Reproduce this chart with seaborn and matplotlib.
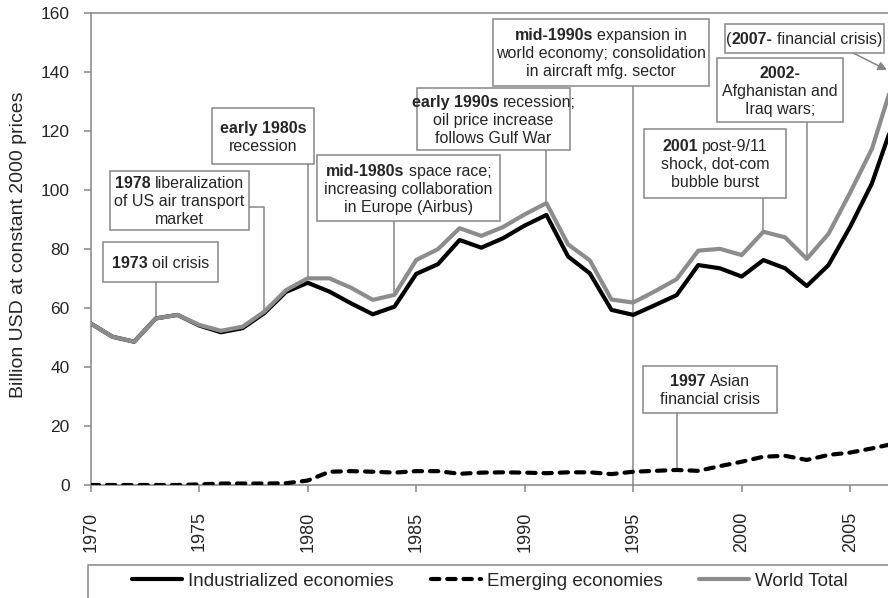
import matplotlib
matplotlib.use("Agg")
import matplotlib.pyplot as plt
import seaborn as sns
import numpy as np
import pandas as pd
from matplotlib.patches import Rectangle
from matplotlib.lines import Line2D

# data
years = list(range(1970, 2008))
industrialized = [54.8, 50.3, 48.6, 56.5, 57.7, 54.1, 51.8, 53.2, 58.3, 65.5,
                  68.6, 65.6, 61.6, 57.9, 60.5, 71.6, 74.9, 83.1, 80.5, 83.7,
                  88.0, 91.6, 77.5, 71.8, 59.4, 57.7, 61.0, 64.4, 74.6, 73.5,
                  70.7, 76.3, 73.5, 67.5, 74.6, 87.6, 102.3, 123.5]
emerging = [0.0, 0.0, 0.0, 0.0, 0.0, 0.2, 0.5, 0.5, 0.5, 0.6,
            1.5, 4.5, 4.7, 4.5, 4.2, 4.7, 4.7, 3.8, 4.2, 4.3,
            4.2, 4.0, 4.3, 4.3, 3.7, 4.5, 4.8, 5.1, 4.8, 6.4,
            7.9, 9.6, 9.9, 8.5, 10.2, 11.0, 12.4, 14.0]
world_total = [54.8, 50.3, 48.6, 56.5, 57.7, 54.3, 52.3, 53.7, 58.8, 66.1,
               70.1, 70.1, 66.9, 62.8, 64.5, 76.3, 80.0, 87.1, 84.5, 87.5,
               91.8, 95.6, 81.6, 76.2, 62.9, 61.9, 65.7, 69.8, 79.5, 80.1,
               78.0, 85.9, 84.0, 76.7, 85.2, 99.2, 114.0, 137.5]
series_labels = ["Industrialized economies", "Emerging economies", "World Total"]
x_ticks = list(range(1970, 2006, 5))
y_ticks = list(range(0, 161, 20))

df = pd.DataFrame({"year": years, "ind": industrialized, "em": emerging, "world": world_total})

sns.set_style("ticks")
plt.rcParams["font.family"] = ["Liberation Sans", "DejaVu Sans"]

W, H = 888, 598
GRAY = "#8c8c8c"
EDGE = "#868686"

fig = plt.figure(figsize=(W / 100, H / 100), dpi=100)
ax = fig.add_axes([90.7 / W, 1 - 485 / H, (893.6 - 90.7) / W, (485 - 13.3) / H])

sns.lineplot(data=df, x="year", y="ind", ax=ax, color="black", lw=3.0, zorder=3)
sns.lineplot(data=df, x="year", y="em", ax=ax, color="black", lw=3.0,
             linestyle=(0, (2.0, 1.9)), dash_capstyle="round", zorder=3)
sns.lineplot(data=df, x="year", y="world", ax=ax, color=GRAY, lw=3.0, zorder=4)

ax.set_xlim(1970, 2007)
ax.set_ylim(0, 160)
ax.set_xticks(x_ticks)
ax.set_yticks(y_ticks)
ax.set_xlabel("")
ax.set_ylabel("Billion USD at constant 2000 prices", fontsize=14)
ax.yaxis.set_label_coords(-0.079, 0.509)
ax.tick_params(axis="x", labelrotation=90, length=5, width=1.1, color=EDGE,
               pad=14, labelsize=13)
ax.tick_params(axis="y", length=5, width=1.1, color=EDGE, pad=10, labelsize=12.5)
for sp in ax.spines.values():
    sp.set_visible(True)
    sp.set_color(EDGE)
    sp.set_linewidth(1.1)


def px_to_data(x, y):
    return ax.transData.inverted().transform((x, H - y))


def fig_frac(x, y):
    return x / W, 1 - y / H


renderer = fig.canvas.get_renderer()
FS = 11.5
EM = FS * 100 / 72


def rich_line(cx, cy, line):
    parts = line.split("**")
    segs = [(p, i % 2 == 1) for i, p in enumerate(parts) if p.strip()]
    texts, gaps = [], []
    gap = 0.278 * EM
    for k, (s, bold) in enumerate(segs):
        t = fig.text(0, 0, s.strip(), fontsize=FS, fontweight="bold" if bold else "normal",
                     ha="left", va="baseline", zorder=12)
        texts.append(t)
        spaced = k > 0 and (s.startswith(" ") or segs[k - 1][0].endswith(" "))
        gaps.append(gap if spaced else 0.0)
    widths = [t.get_window_extent(renderer).width for t in texts]
    total = sum(widths) + sum(gaps)
    x = cx - total / 2
    base = cy + 0.36 * EM
    for t, w, g in zip(texts, widths, gaps):
        x += g
        t.set_position(fig_frac(x, base))
        x += w


def text_box(x0, y0, x1, y1, lines, spacing=18):
    fig.add_artist(Rectangle(fig_frac(x0, y1), (x1 - x0) / W, (y1 - y0) / H,
                             transform=fig.transFigure, fc="white", ec=EDGE,
                             lw=1.1, zorder=10))
    cx, cy = (x0 + x1) / 2, (y0 + y1) / 2
    n = len(lines)
    for i, ln in enumerate(lines):
        rich_line(cx, cy + (i - (n - 1) / 2) * spacing, ln)


def connector(year, top_px, target):
    ytop = px_to_data(0, top_px)[1]
    ax.plot([year, year], [ytop, target], color=EDGE, lw=1.1, zorder=2,
            solid_capstyle="butt", clip_on=False)


wt = dict(zip(years, world_total))
em = dict(zip(years, emerging))

# annotations
text_box(103, 242, 218, 282, ["**1973** oil crisis"])
connector(1973, 282, wt[1973])

text_box(110, 171, 249, 230, ["**1978** liberalization", "of US air transport", "market"])
ex, ey = px_to_data(249, 206.7)
ax.plot([ex, 1978, 1978], [ey, ey, wt[1978]], color=EDGE, lw=1.1, zorder=2, clip_on=False)

text_box(212, 108, 314, 164, ["**early 1980s**", "recession"])
connector(1980, 164, wt[1980])

text_box(317, 155, 500, 221, ["**mid-1980s** space race;", "increasing collaboration",
                              "in Europe (Airbus)"])
connector(1984, 221, wt[1984])

text_box(417, 88, 570, 150, ["**early 1990s** recession;", "oil price increase",
                             "follows Gulf War"])
connector(1991, 150, wt[1991])

text_box(493, 19, 709, 86, ["**mid-1990s** expansion in", "world economy; consolidation",
                            "in aircraft mfg. sector"])
connector(1995, 86, 0)

text_box(725, 24, 884, 53, ["(**2007-** financial crisis)"])
ax.annotate("", xy=(887, H - 70), xytext=(853, H - 53), xycoords="figure pixels",
            textcoords="figure pixels",
            arrowprops=dict(arrowstyle="-|>", color=EDGE, lw=1.1, mutation_scale=13,
                            shrinkA=0, shrinkB=0), zorder=11)

text_box(717, 58, 843, 122, ["**2002-**", "Afghanistan and", "Iraq wars;"])
connector(2003, 122, wt[2003])

text_box(644, 129, 786, 198, ["**2001** post-9/11", "shock, dot-com", "bubble burst"])
connector(2001, 198, wt[2001])

text_box(643, 366, 777, 413, ["**1997** Asian", "financial crisis"])
connector(1997, 413, em[1997])

# legend
fig.add_artist(Rectangle(fig_frac(88, 610), (893 - 88) / W, (610 - 565) / H,
                         transform=fig.transFigure, fc="white", ec=EDGE, lw=1.1,
                         zorder=10, clip_on=False))
handles = [Line2D([], [], color="black", lw=3.0),
           Line2D([], [], color="black", lw=3.0, linestyle=(0, (2.0, 1.9)),
                  dash_capstyle="round"),
           Line2D([], [], color=GRAY, lw=3.0)]
leg = fig.legend(handles, series_labels, loc="center", bbox_to_anchor=fig_frac(490, 581),
                 ncol=3, frameon=False, fontsize=13.5, handlelength=2.67,
                 handletextpad=0.32, columnspacing=1.97, borderpad=0)
leg.set_zorder(12)

fig.savefig("out.png", dpi=100)
